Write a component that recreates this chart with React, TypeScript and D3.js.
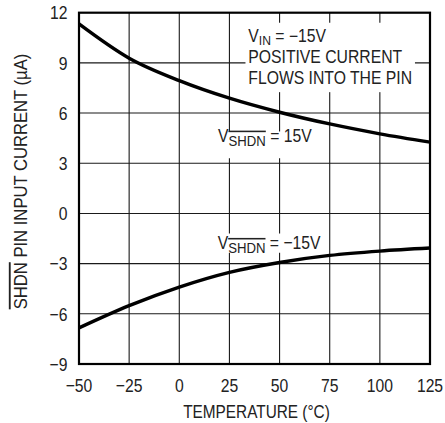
import * as d3 from "d3";
import type { ReactNode } from "react";

// temperature (°C) and SHDN pin current (µA)
const temps = [-50, -25, 0, 25, 50, 75, 100, 125];
const currentShdnPos = [11.33, 9.28, 7.94, 6.89, 6.05, 5.35, 4.76, 4.26];
const currentShdnNeg = [-6.84, -5.51, -4.4, -3.52, -2.93, -2.51, -2.25, -2.07];

const xTicks = [-50, -25, 0, 25, 50, 75, 100, 125];
const yTicks = [-9, -6, -3, 0, 3, 6, 9, 12];

const FONT = "'Liberation Sans', Arial, sans-serif";
const fmt = (v: number) => (v < 0 ? "\u2212" + Math.abs(v) : String(v));

// condensed-looking text: squeeze horizontally since no narrow font is installed
const T = ({
  x,
  y,
  rotate = 0,
  sx = 0.85,
  anchor = "start",
  size = 18.5,
  children,
}: {
  x: number;
  y: number;
  rotate?: number;
  sx?: number;
  anchor?: string;
  size?: number;
  children: ReactNode;
}) => (
  <g transform={`translate(${x},${y}) rotate(${rotate}) scale(${sx},1)`}>
    <text textAnchor={anchor} fontSize={size} fill="#222">
      {children}
    </text>
  </g>
);

export default function App() {
  const width = 445;
  const height = 423;
  const margin = { top: 12.7, right: 15, bottom: 59, left: 79 };

  const x = d3.scaleLinear().domain([-50, 125]).range([margin.left, width - margin.right]);
  const y = d3.scaleLinear().domain([-9, 12]).range([height - margin.bottom, margin.top]);

  const line = d3
    .line<number>()
    .x((_, i) => x(temps[i]))
    .y((d) => y(d))
    .curve(d3.curveMonotoneX);

  const [x0, x1] = x.range();
  const [y0, y1] = y.range();

  const sub = (s: string) => (
    <tspan fontSize={15.5} dy={4} style={{ textDecoration: "overline" }}>
      {s}
    </tspan>
  );

  return (
    <svg
      width={width}
      height={height}
      style={{ position: "absolute", left: 0, top: 0, background: "#fff" }}
      fontFamily={FONT}
    >
      {/* grid */}
      <g stroke="#1a1a1a" strokeWidth={1.1}>
        {xTicks.slice(1, -1).map((t) => (
          <line key={"gx" + t} x1={x(t)} x2={x(t)} y1={y1} y2={y0} />
        ))}
        {yTicks.slice(1, -1).map((t) => (
          <line key={"gy" + t} x1={x0} x2={x1} y1={y(t)} y2={y(t)} />
        ))}
      </g>

      {/* white backgrounds behind annotations */}
      <rect x={x(33)} y={y(11.4)} width={x(117.5) - x(33)} height={y(7.25) - y(11.4)} fill="#fff" />
      <rect x={x(19)} y={y(4.9)} width={x(66) - x(19)} height={y(3.3) - y(4.9)} fill="#fff" />
      <rect x={x(19)} y={y(-1.2)} width={x(71) - x(19)} height={y(-2.35) - y(-1.2)} fill="#fff" />

      {/* curves */}
      <path d={line(currentShdnPos) ?? ""} fill="none" stroke="#000" strokeWidth={3.4} />
      <path d={line(currentShdnNeg) ?? ""} fill="none" stroke="#000" strokeWidth={3.4} />

      {/* frame */}
      <rect x={x0} y={y1} width={x1 - x0} height={y0 - y1} fill="none" stroke="#000" strokeWidth={2.2} />

      {/* tick labels */}
      {yTicks.map((t) => (
        <T key={"ty" + t} x={x0 - 11.5} y={y(t) + 6.7} anchor="end">
          {fmt(t)}
        </T>
      ))}
      {xTicks.map((t) => (
        <T key={"tx" + t} x={x(t)} y={y0 + 28} anchor="middle">
          {fmt(t)}
        </T>
      ))}

      {/* axis titles */}
      <T x={(x0 + x1) / 2 + 2} y={y0 + 53.5} anchor="middle" sx={0.83}>
        TEMPERATURE (°C)
      </T>
      <T x={26.7} y={181.5} rotate={-90} anchor="middle" sx={0.9}>
        <tspan style={{ textDecoration: "overline" }}>SHDN</tspan> PIN INPUT CURRENT (µA)
      </T>

      {/* annotations */}
      <T x={248.3} y={42} size={17.5} sx={0.9}>
        V<tspan fontSize={13.5} dy={2.5}>IN</tspan>
        <tspan dy={-2.5}> = {"\u2212"}15V</tspan>
      </T>
      <T x={248.3} y={63} size={17.5} sx={0.9}>POSITIVE CURRENT</T>
      <T x={248.3} y={84} size={17.5} sx={0.9}>FLOWS INTO THE PIN</T>

      <T x={218} y={141.7}>
        V{sub("SHDN")}
        <tspan dy={-4}> = 15V</tspan>
      </T>
      <T x={217.7} y={249}>
        V{sub("SHDN")}
        <tspan dy={-4}> = {"\u2212"}15V</tspan>
      </T>
    </svg>
  );
}
